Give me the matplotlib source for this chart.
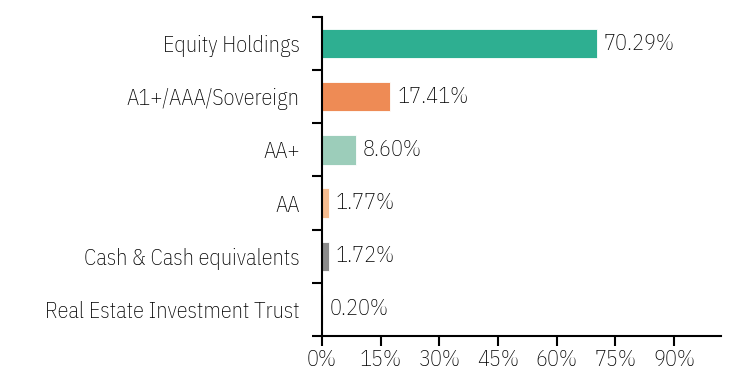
import matplotlib
matplotlib.use("Agg")
import matplotlib.pyplot as plt

categories = ["Equity Holdings", "A1+/AAA/Sovereign", "AA+", "AA",
              "Cash & Cash equivalents", "Real Estate Investment Trust"]
values = [70.29, 17.41, 8.60, 1.77, 1.72, 0.20]
colors = ["#2EAF91", "#EE8B55", "#9CCDBA", "#F6BC90", "#8A8A8A", "#D0D0D0"]
xticks = [0, 15, 30, 45, 60, 75, 90]

plt.rcParams["font.family"] = ["IBM Plex Sans Condensed", "DejaVu Sans"]
plt.rcParams["font.weight"] = "light"
fs = 16

fig = plt.figure(figsize=(7.41, 3.86), dpi=100)
ax = fig.add_axes([0.4345, 0.1295, 0.973 - 0.4345, 0.956 - 0.1295])

ypos = list(range(len(categories)))
ax.barh(ypos, values, height=0.55, color=colors, edgecolor="white", linewidth=0.6)
for y, v in zip(ypos, values):
    ax.text(v + 1.8, y, f"{v:.2f}%", va="center", ha="left", fontsize=fs, color="black")

ax.set_ylim(len(categories) - 0.5, -0.5)
ax.set_xlim(0, 102)
ax.set_xticks(xticks)
ax.set_xticklabels([f"{t}%" for t in xticks], fontsize=fs, color="black")

# labels sit in the middle of each band, tick marks on the band edges
ax.set_yticks(ypos)
ax.set_yticklabels(categories, fontsize=fs, color="black")
ax.tick_params(axis="y", which="major", length=0, pad=16)
ax.set_yticks([i - 0.5 for i in range(len(categories) + 1)], minor=True)
ax.tick_params(axis="y", which="minor", length=7, width=1.5)
ax.tick_params(axis="x", length=7, width=1.5, pad=2)

for s in ["top", "right"]:
    ax.spines[s].set_visible(False)
for s in ["left", "bottom"]:
    ax.spines[s].set_linewidth(1.5)

fig.savefig("out.png", dpi=100)
